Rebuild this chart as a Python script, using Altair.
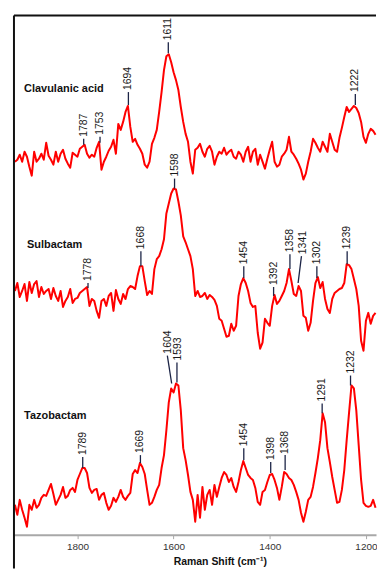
import altair as alt
import pandas as pd

# Wavenumber grid (cm-1), every 5 cm-1 from 1930 down to 1180
wavenumbers = list(range(1930, 1175, -5))

# Relative Raman intensities (a.u.)
clavulanic = [45, 47, 52, 45, 55, 50, 40, 31, 55, 45, 48, 53, 47, 64, 51, 47, 42, 55, 45, 53,
              57, 48, 43, 39, 54, 52, 50, 58, 60, 62, 53, 49, 52, 50, 59, 65, 37, 45, 50, 56,
              60, 67, 53, 83, 77, 85, 95, 101, 80, 65, 68, 62, 58, 53, 42, 39, 45, 63, 69, 77,
              95, 115, 137, 151, 153, 145, 135, 127, 117, 100, 85, 73, 65, 45, 33, 57, 59, 63, 55, 50,
              58, 61, 55, 42, 50, 55, 53, 59, 52, 55, 57, 50, 48, 55, 52, 45, 55, 60, 45, 55,
              58, 42, 52, 45, 38, 48, 57, 65, 45, 40, 42, 50, 53, 57, 70, 55, 52, 48, 43, 37,
              27, 33, 45, 55, 68, 64, 59, 55, 65, 60, 55, 73, 65, 57, 55, 69, 79, 90, 100, 95,
              98, 101, 99, 94, 85, 70, 64, 73, 78, 76, 72]
sulbactam = [70, 78, 64, 70, 77, 60, 79, 68, 77, 80, 64, 74, 67, 70, 72, 62, 73, 65, 60, 70,
             54, 60, 64, 72, 58, 62, 63, 68, 70, 72, 74, 55, 62, 60, 50, 43, 60, 62, 55, 65,
             68, 50, 71, 62, 57, 67, 62, 72, 75, 74, 72, 85, 95, 95, 80, 66, 70, 67, 92, 102,
             105, 112, 122, 148, 158, 168, 173, 172, 160, 146, 125, 119, 112, 105, 92, 65, 70, 64, 65, 68,
             62, 66, 64, 61, 55, 42, 40, 32, 24, 25, 37, 30, 35, 65, 77, 83, 78, 70, 58, 54,
             55, 28, 12, 18, 42, 38, 35, 55, 66, 57, 60, 65, 70, 78, 92, 80, 67, 65, 75, 70,
             45, 43, 30, 38, 60, 78, 84, 73, 79, 62, 52, 48, 62, 68, 70, 72, 73, 78, 97, 96,
             92, 82, 72, 55, 20, 10, 40, 48, 37, 45, 48]
tazobactam = [30, 20, 35, 25, 17, 8, 30, 25, 35, 27, 30, 37, 40, 39, 45, 51, 41, 30, 35, 40,
              48, 37, 39, 45, 47, 43, 55, 61, 67, 67, 62, 47, 42, 45, 46, 35, 40, 42, 32, 25,
              29, 37, 33, 38, 45, 38, 35, 39, 42, 61, 65, 62, 72, 68, 61, 45, 30, 32, 38, 45,
              50, 67, 80, 105, 133, 147, 143, 152, 150, 125, 87, 75, 60, 43, 35, 13, 40, 17, 48, 25,
              40, 45, 30, 50, 38, 48, 57, 63, 60, 53, 57, 48, 43, 53, 65, 74, 67, 60, 57, 55,
              47, 33, 30, 43, 45, 53, 60, 61, 55, 47, 35, 48, 63, 61, 57, 55, 50, 43, 35, 22,
              13, 23, 35, 38, 48, 62, 77, 95, 122, 113, 87, 73, 58, 45, 32, 33, 45, 65, 95, 123,
              150, 147, 125, 90, 55, 32, 29, 28, 29, 35, 27]

names = ["Clavulanic acid", "Sulbactam", "Tazobactam"]
offsets = [330, 175, 0]
name_wn = [1911, 1905, 1911]
name_level = [448, 291, 119]

# Peak annotations: label, peak position, peak level, leader top, text position, text level
peak_labels = ["1787", "1753", "1694", "1611", "1222",
               "1778", "1668", "1598", "1454", "1392", "1358", "1341", "1302", "1239",
               "1789", "1669", "1604", "1593", "1454", "1398", "1368", "1291", "1232"]
peak_wn = [1787, 1753, 1694, 1611, 1222,
           1778, 1668, 1598, 1454, 1392, 1358, 1341, 1302, 1239,
           1789, 1669, 1604, 1593, 1454, 1398, 1368, 1291, 1232]
peak_level = [392, 394, 432, 484, 432,
              248, 270, 348, 258, 240, 267, 253, 258, 272,
              67, 72, 152, 153, 75, 62, 65, 122, 150]
lead_wn = [1787, 1753, 1694, 1611, 1222,
           1778, 1668, 1598, 1454, 1392, 1358, 1334, 1302, 1239,
           1789, 1669, 1613, 1593, 1454, 1398, 1368, 1291, 1232]
lead_top = [398, 400, 445, 495, 443,
            253, 285, 358, 270, 249, 282, 280, 270, 285,
            78, 80, 180, 173, 87, 73, 80, 132, 160]
text_wn = [1787, 1753, 1694, 1611, 1222,
           1778, 1668, 1598, 1454, 1392, 1358, 1330, 1302, 1239,
           1789, 1669, 1612, 1590, 1454, 1398, 1368, 1291, 1232]
text_level = [400, 402, 447, 497, 445,
              255, 287, 360, 272, 251, 284, 282, 272, 287,
              80, 82, 182, 175, 89, 75, 81, 134, 162]

rows = []
for name, off, vals in zip(names, offsets, [clavulanic, sulbactam, tazobactam]):
    for w, v in zip(wavenumbers, vals):
        rows.append({"spectrum": name, "wn": w, "I": v + off})
spec_df = pd.DataFrame(rows)

lab_df = pd.DataFrame({"label": peak_labels, "pw": peak_wn, "pl": peak_level,
                       "lw": lead_wn, "lt": lead_top, "tw": text_wn, "tl": text_level})
name_df = pd.DataFrame({"name": names, "wn": name_wn, "lvl": name_level})

W, H = 364, 522
xs = alt.Scale(domain=[1932, 1179], nice=False, zero=False)
ys = alt.Scale(domain=[0, 522], nice=False, zero=False)

xaxis = alt.Axis(values=[1800, 1600, 1400, 1200], format="d", title="Raman Shift (cm⁻¹)",
                 titleFontWeight="bold", titleFontSize=10.5, titleColor="#111",
                 titleFont="Liberation Sans", titleX=207, titleY=27, titleAlign="center",
                 titleBaseline="middle", labelFont="Liberation Sans", labelFontSize=10,
                 labelColor="#333", labelPadding=3, domainColor="#a8a8a8", domainWidth=2,
                 tickColor="#a8a8a8", tickSize=4, tickWidth=1, grid=False, labelFlush=False)

lines = alt.Chart(spec_df).mark_line(color="#ff0000", strokeWidth=2, strokeJoin="round").encode(
    x=alt.X("wn:Q", scale=xs, axis=xaxis),
    y=alt.Y("I:Q", scale=ys, axis=None),
    detail="spectrum:N",
    order=alt.Order("wn:Q", sort="descending"),
)

leaders = alt.Chart(lab_df).mark_rule(color="#1c2446", strokeWidth=1.3).encode(
    x=alt.X("pw:Q", scale=xs), x2="lw:Q",
    y=alt.Y("pl:Q", scale=ys), y2="lt:Q",
)

texts = alt.Chart(lab_df).mark_text(angle=270, align="left", baseline="middle",
                                    font="Liberation Sans", fontSize=10.5, color="#1a1a1a").encode(
    x=alt.X("tw:Q", scale=xs), y=alt.Y("tl:Q", scale=ys), text="label:N"
)

name_text = alt.Chart(name_df).mark_text(align="left", baseline="middle", font="Liberation Sans",
                                         fontSize=11, fontWeight="bold", color="#111").encode(
    x=alt.X("wn:Q", scale=xs), y=alt.Y("lvl:Q", scale=ys), text="name:N"
)

frame_df = pd.DataFrame({"k": [0]})
left_edge = alt.Chart(frame_df).mark_rule(color="#111", strokeWidth=2).encode(
    x=alt.value(0), y=alt.value(0), y2=alt.value(H + 34)
)
top_edge = alt.Chart(frame_df).mark_rule(color="#111", strokeWidth=2).encode(
    x=alt.value(0), x2=alt.value(W), y=alt.value(0)
)

chart = alt.layer(lines, leaders, texts, name_text, left_edge, top_edge).properties(
    width=W, height=H, padding={"left": 5, "top": 5, "right": 0, "bottom": 0},
    background="white",
).configure_view(stroke=None)

chart.save("out.html", embed_options={"renderer": "svg", "actions": False})
